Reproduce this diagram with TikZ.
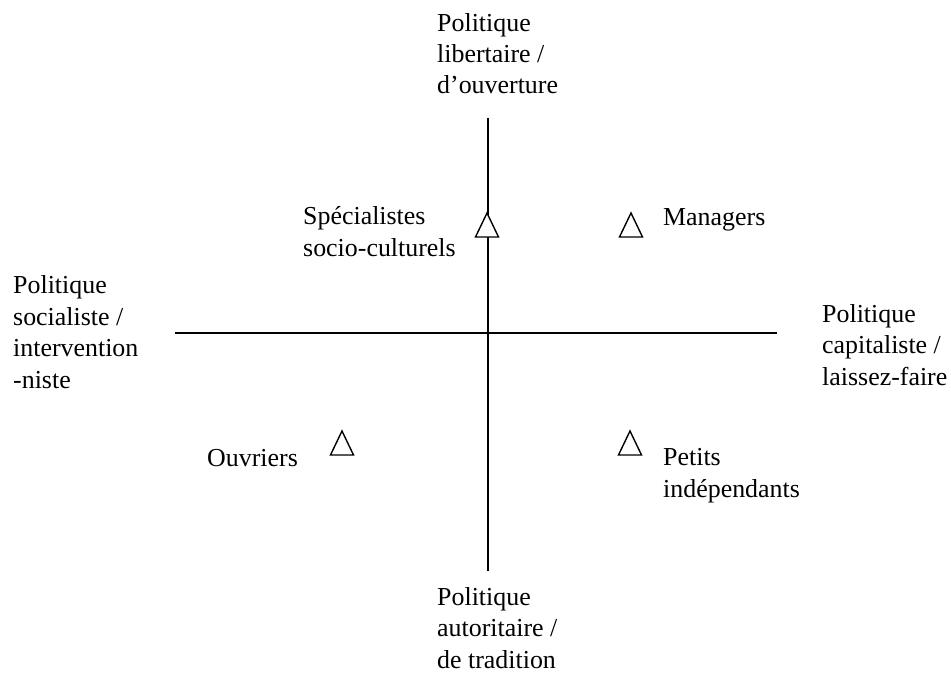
\documentclass[tikz,border=0pt]{standalone}
\usepackage{fontspec}
\setmainfont{Liberation Serif}
\begin{document}
\begin{tikzpicture}[x=1bp,y=-1bp,
  lbl/.style={anchor=base west,inner sep=0pt,align=left,font=\fontsize{26}{31.5}\selectfont},
  axis/.style={line width=1.6bp,black},
  tri/.style={line width=1.4bp,black,fill=white,line join=miter}]
\useasboundingbox (0,0) rectangle (951,673);
% axes
\coordinate (top) at (488,118);
\coordinate (bottom) at (488,571);
\coordinate (left) at (175,333);
\coordinate (right) at (777,333);
\draw[axis] (left) -- (right);
\draw[axis] (top) -- (bottom);
% triangles
\foreach \n/\cx/\ty in {tS/487/213, tM/631/213, tO/342/431, tP/630/431}{
  \coordinate (\n) at (\cx,\ty);
  \draw[tri] (\n) -- ++(-11.5,24) -- ++(23,0) -- cycle;
}
% axis labels (anchor = baseline of the last line)
\node[lbl] (lTop) at (437,94) {Politique\\libertaire /\\d’ouverture};
\node[lbl] (lBot) at (437,668) {Politique\\autoritaire /\\de tradition};
\node[lbl] (lLeft) at (13,388) {Politique\\socialiste /\\intervention\\-niste};
\node[lbl] (lRight) at (822,385) {Politique\\capitaliste /\\laissez-faire};
% group labels
\node[lbl] (gS) at (303,256) {Spécialistes\\socio-culturels};
\node[lbl] (gM) at (663,225) {Managers};
\node[lbl] (gO) at (207,466) {Ouvriers};
\node[lbl] (gP) at (663,497) {Petits\\indépendants};
\end{tikzpicture}
\end{document}
